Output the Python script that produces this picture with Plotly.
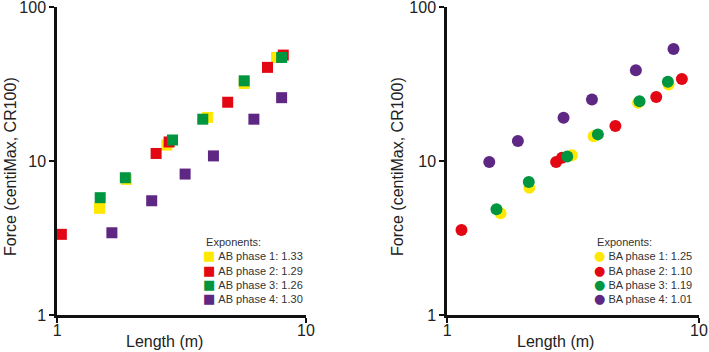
import plotly.graph_objects as go

# ---------------- data ----------------
legend_title = "Exponents:"
ab_series = ["AB phase 1: 1.33", "AB phase 2: 1.29", "AB phase 3: 1.26", "AB phase 4: 1.30"]
ab_len = [
    [1.48, 1.90, 2.76, 4.02, 5.65, 7.62],
    [1.04, 2.50, 2.82, 4.85, 7.01, 8.11],
    [1.49, 1.88, 2.91, 3.85, 5.65, 7.99],
    [1.66, 2.40, 3.27, 4.25, 6.18, 7.99],
]
ab_force = [
    [4.93, 7.6, 12.7, 19.2, 31.9, 47.1],
    [3.34, 11.2, 13.3, 24.1, 40.6, 48.8],
    [5.78, 7.79, 13.7, 18.7, 33.2, 47.1],
    [3.42, 5.52, 8.23, 10.8, 18.7, 25.8],
]

ba_series = ["BA phase 1: 1.25", "BA phase 2: 1.10", "BA phase 3: 1.19", "BA phase 4: 1.01"]
ba_len = [
    [1.63, 2.12, 3.13, 3.82, 5.73, 7.58],
    [1.14, 2.71, 2.86, 4.66, 6.77, 8.56],
    [1.57, 2.11, 3.00, 3.97, 5.81, 7.53],
    [1.47, 1.91, 2.90, 3.76, 5.62, 7.93],
]
ba_force = [
    [4.58, 6.71, 10.9, 14.5, 23.9, 31.4],
    [3.57, 9.85, 10.5, 16.9, 26.1, 34.1],
    [4.86, 7.31, 10.7, 14.9, 24.5, 32.7],
    [9.85, 13.5, 19.1, 25.1, 38.9, 53.4],
]

colors = ["#FFE800", "#E30613", "#009640", "#5E2784"]
tick_vals_y = [1, 10, 100]
tick_vals_x = [1, 10]
x_title = "Length (m)"
y_title = "Force (centiMax, CR100)"

# ---------------- figure ----------------
W, H = 709, 352
fig = go.Figure()

for i in range(4):
    fig.add_trace(go.Scatter(
        x=ab_len[i], y=ab_force[i], mode="markers", name=ab_series[i],
        marker=dict(symbol="square", size=11, color=colors[i]),
        xaxis="x", yaxis="y", showlegend=False,
    ))
for i in range(4):
    fig.add_trace(go.Scatter(
        x=ba_len[i], y=ba_force[i], mode="markers", name=ba_series[i],
        marker=dict(symbol="circle", size=12, color=colors[i]),
        xaxis="x2", yaxis="y2", showlegend=False,
    ))

font_family = "Liberation Sans, Arial, sans-serif"
axis_common = dict(
    type="log", showgrid=False, zeroline=False, showline=True,
    linecolor="#111", linewidth=2.5, ticks="outside", ticklen=5,
    tickwidth=2, tickcolor="#111", automargin=False, ticklabeloverflow="allow",
    tickfont=dict(family=font_family, size=16, color="#222"),
)

ydom = [0.105, 0.980]
fig.update_layout(
    width=W, height=H,
    margin=dict(l=0, r=0, t=0, b=0),
    paper_bgcolor="white", plot_bgcolor="white",
    font=dict(family=font_family, color="#222"),
    showlegend=False,
    xaxis=dict(axis_common, domain=[0.0804, 0.4316], range=[-0.0005, 1.0005],
               tickvals=tick_vals_x, ticktext=[str(v) for v in tick_vals_x],
               ticklabelstandoff=-6, anchor="y"),
    yaxis=dict(axis_common, domain=ydom, range=[-0.0005, 2.0005],
               tickvals=tick_vals_y, ticktext=[str(v) for v in tick_vals_y],
               anchor="x"),
    xaxis2=dict(axis_common, domain=[0.6305, 0.9859], range=[-0.0005, 1.0005],
                tickvals=tick_vals_x, ticktext=[str(v) for v in tick_vals_x],
                ticklabelstandoff=-6, anchor="y2"),
    yaxis2=dict(axis_common, domain=ydom, range=[-0.0005, 2.0005],
                tickvals=tick_vals_y, ticktext=[str(v) for v in tick_vals_y],
                anchor="x2"),
)

title_font = dict(family=font_family, size=16, color="#222")
ann = []
# axis titles
for xc, yc in [(164, 10), (555, 397)]:
    ann.append(dict(text=x_title, xref="paper", yref="paper", x=xc / W, y=(H - 341) / H,
                    xanchor="center", yanchor="middle", showarrow=False, font=title_font))
    ann.append(dict(text=y_title, xref="paper", yref="paper", x=yc / W, y=(H - 167) / H,
                    xanchor="center", yanchor="middle", textangle=-90, showarrow=False,
                    font=title_font))

# legends (one text block per panel, built from the series names and colours)
leg_font = dict(family=font_family, size=11, color="#333")
panels = [
    dict(names=ab_series, glyph="\u25A0", gsize=13, left=202, top=235),
    dict(names=ba_series, glyph="\u25CF", gsize=13, left=593, top=235),
]
for p in panels:
    lines = ["&nbsp;" + legend_title]
    for i, name in enumerate(p["names"]):
        lines.append(
            f"<span style='color:{colors[i]};font-family:DejaVu Sans;font-size:{p['gsize']}px'>{p['glyph']}</span>"
            f"&nbsp;{name}"
        )
    ann.append(dict(text="<br>".join(lines), xref="paper", yref="paper",
                    x=p["left"] / W, y=(H - p["top"]) / H, xanchor="left", yanchor="top",
                    align="left", showarrow=False, font=leg_font, borderpad=0))
fig.update_layout(annotations=ann)

fig.write_html(
    "out.html",
    config={"displayModeBar": False},
    post_script="document.body.style.margin='0';document.body.style.overflow='hidden';",
)
